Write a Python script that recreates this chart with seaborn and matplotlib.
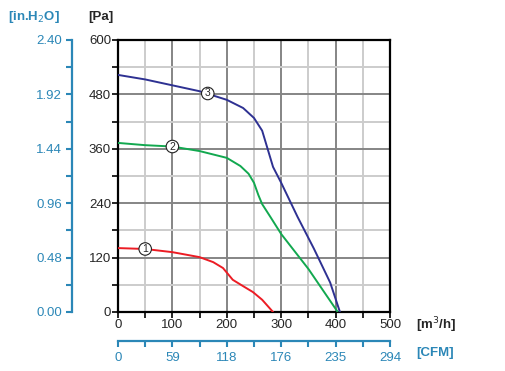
import numpy as np
import pandas as pd
import matplotlib
matplotlib.use('Agg')
import matplotlib.pyplot as plt
import seaborn as sns

# curve data: airflow [m3/h] vs static pressure [Pa]
flow_1 = [0, 50, 100, 150, 175, 193, 211, 230, 248, 265, 285]
pres_1 = [141, 139, 132, 121, 110, 97, 71, 57, 44, 27, 0]

flow_2 = [0, 50, 100, 150, 200, 225, 240, 250, 258, 265, 280, 300, 350, 404]
pres_2 = [373, 368, 365, 355, 340, 322, 305, 285, 258, 238, 210, 172, 95, 0]

flow_3 = [0, 50, 100, 150, 200, 230, 250, 265, 275, 285, 300, 330, 360, 390, 408]
pres_3 = [523, 513, 500, 487, 468, 450, 428, 400, 360, 320, 285, 210, 140, 65, 0]

curve_labels = ['1', '2', '3']
label_flow = [50, 100, 165]
label_pres = [139, 365, 482]

x_ticks = [0, 100, 200, 300, 400, 500]
y_ticks = [0, 120, 240, 360, 480, 600]
inh2o_ticks = [0.00, 0.48, 0.96, 1.44, 1.92, 2.40]
cfm_labels = ['0', '59', '118', '176', '235', '294']

BLUE = '#2b87b7'
RED = '#ec1c24'
GREEN = '#12a84f'
NAVY = '#2e3192'

sns.set_style('white')
plt.rcParams['font.family'] = ['Liberation Sans', 'DejaVu Sans']
plt.rcParams['font.size'] = 9.5

W, H = 505, 371
fig = plt.figure(figsize=(W / 100, H / 100), dpi=100)
ax = fig.add_axes([118 / W, 1 - 312 / H, 272 / W, 272 / H])

for fl, pr, col in [(flow_1, pres_1, RED), (flow_2, pres_2, GREEN), (flow_3, pres_3, NAVY)]:
    df = pd.DataFrame({'flow': fl, 'pres': pr})
    sns.lineplot(data=df, x='flow', y='pres', sort=False, color=col, lw=1.4, ax=ax, zorder=3)

for lab, fx, py in zip(curve_labels, label_flow, label_pres):
    ax.text(fx, py, lab, ha='center', va='center', fontsize=7.5, zorder=5,
            bbox=dict(boxstyle='circle,pad=0.12', fc='white', ec='#222222', lw=0.8))

ax.set_xlim(0, 500)
ax.set_ylim(0, 600)
ax.set_xticks(x_ticks)
ax.set_xticks(np.arange(50, 500, 100), minor=True)
ax.set_yticks(y_ticks)
ax.set_yticks(np.arange(60, 600, 120), minor=True)
ax.grid(which='major', color='#858585', lw=1.4)
ax.grid(which='minor', color='#cccccc', lw=1.4)
ax.set_axisbelow(True)
ax.tick_params(which='both', direction='out', length=4, width=1.2, color='black',
               left=True, bottom=True, labelsize=9.5, pad=1)
ax.set_xlabel('')
ax.set_ylabel('')
for s in ax.spines.values():
    s.set_color('black')
    s.set_linewidth(1.6)

# in.H2O scale on the left (600 Pa = 2.40 in.H2O on this chart)
sy = ax.secondary_yaxis((72 - 118) / 272, functions=(lambda y: y / 250, lambda y: y * 250))
sy.set_yticks(inh2o_ticks)
sy.set_yticks(np.arange(0.24, 2.4, 0.48), minor=True)
sy.set_yticklabels([f'{v:.2f}' for v in inh2o_ticks])
sy.tick_params(which='both', direction='out', length=4, width=1.5, color=BLUE,
               labelcolor=BLUE, labelsize=9.5, pad=3)
sy.spines['left'].set_color(BLUE)
sy.spines['left'].set_linewidth(1.6)

# CFM scale below
sx = ax.secondary_xaxis((312 - 341) / 272, functions=(lambda x: x * 0.588, lambda x: x / 0.588))
cfm_pos = [v * 0.588 for v in x_ticks]
sx.set_xticks(cfm_pos)
sx.set_xticks([(v + 50) * 0.588 for v in x_ticks[:-1]], minor=True)
sx.set_xticklabels(cfm_labels)
sx.tick_params(which='both', direction='out', length=4, width=1.5, color=BLUE,
               labelcolor=BLUE, labelsize=9.5, pad=4)
sx.spines['bottom'].set_color(BLUE)
sx.spines['bottom'].set_linewidth(1.6)

fig.text(88 / W, 1 - 17 / H, '[Pa]', fontsize=9.5, fontweight='bold', va='center', ha='left')
fig.text(8 / W, 1 - 17 / H, '[in.H$_2$O]', fontsize=9.5, fontweight='bold', color=BLUE,
         va='center', ha='left')
fig.text(416 / W, 1 - 325 / H, '[m$^3$/h]', fontsize=9.5, fontweight='bold', va='center', ha='left')
fig.text(416 / W, 1 - 353 / H, '[CFM]', fontsize=9.5, fontweight='bold', color=BLUE,
         va='center', ha='left')

fig.savefig('out.png', dpi=100)
